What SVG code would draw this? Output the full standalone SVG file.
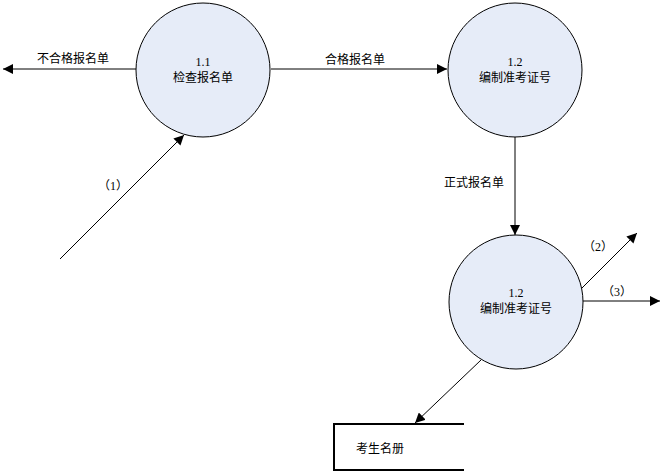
<svg xmlns="http://www.w3.org/2000/svg" width="662" height="474" viewBox="0 0 662 474">
<defs>
<marker id="ah" viewBox="0 0 10 10" refX="10" refY="5" markerWidth="10" markerHeight="10" markerUnits="userSpaceOnUse" orient="auto">
<path d="M0,0 L10,5 L0,10 z" fill="#000"/>
</marker>
</defs>
<style>
.proc{fill:#E6ECF8;stroke:#000;stroke-width:1}
.t{font-family:"Liberation Serif","Noto Sans CJK SC",serif;font-size:12px;fill:#000;text-anchor:middle}
.c{stroke:#000;stroke-width:1;fill:none;marker-end:url(#ah)}
.store{stroke:#000;stroke-width:2;fill:none}
</style>
<rect width="662" height="474" fill="#fff"/>
<g id="connectors">
<line class="c" x1="136" y1="69" x2="3" y2="69"/>
<text class="t" x="73" y="63">不合格报名单</text>
<line class="c" x1="271" y1="69" x2="447" y2="69"/>
<text class="t" x="355" y="64">合格报名单</text>
<line class="c" x1="515" y1="137" x2="515" y2="235"/>
<text class="t" x="474" y="187">正式报名单</text>
<line class="c" x1="60" y1="259" x2="184" y2="135"/>
<text class="t" x="113" y="190">（1）</text>
<line class="c" x1="581" y1="289" x2="637" y2="233"/>
<text class="t" x="598" y="251">（2）</text>
<line class="c" x1="583" y1="301" x2="660" y2="301"/>
<text class="t" x="617" y="296">（3）</text>
<line class="c" x1="481" y1="360" x2="415" y2="423"/>
</g>
<g id="p11">
<circle class="proc" cx="203" cy="70" r="67"/>
<text class="t" x="203" y="66">1.1</text>
<text class="t" x="203" y="82">检查报名单</text>
</g>
<g id="p12a">
<circle class="proc" cx="515" cy="70" r="67"/>
<text class="t" x="515" y="66">1.2</text>
<text class="t" x="515" y="82">编制准考证号</text>
</g>
<g id="p12b">
<circle class="proc" cx="516" cy="302" r="67"/>
<text class="t" x="516" y="297">1.2</text>
<text class="t" x="516" y="313">编制准考证号</text>
</g>
<g id="store">
<path class="store" d="M464,424 H334 V470 H464"/>
<text class="t" x="380" y="453">考生名册</text>
</g>
</svg>
